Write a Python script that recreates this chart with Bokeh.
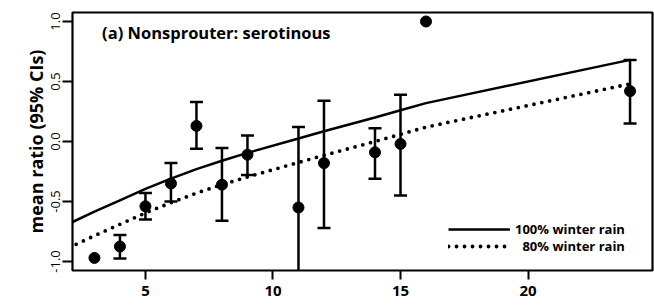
import math
from bokeh.plotting import figure
from bokeh.models import Range1d, FixedTicker, Legend, LegendItem, Label, ColumnDataSource
from bokeh.embed import file_html
from bokeh.resources import INLINE

nan = float("nan")

# observed mean ratios with 95% CIs
age = [3, 4, 5, 6, 7, 8, 9, 11, 12, 14, 15, 16, 24]
mean_ratio = [-0.97, -0.875, -0.54, -0.35, 0.13, -0.36, -0.11, -0.55, -0.18, -0.09, -0.02, 1.00, 0.42]
ci_upper = [nan, -0.78, -0.43, -0.18, 0.33, -0.055, 0.05, 0.12, 0.34, 0.11, 0.39, nan, 0.68]
ci_lower = [nan, -0.975, -0.65, -0.50, -0.06, -0.66, -0.28, -1.25, -0.72, -0.31, -0.45, nan, 0.15]

# fitted curves
fit_age = [2, 3, 4, 5, 6, 7, 8, 9, 11, 12, 14, 15, 16, 24]
fit_100 = [-0.685, -0.585, -0.49, -0.395, -0.31, -0.23, -0.16, -0.095, 0.025, 0.085, 0.20, 0.26, 0.32, 0.68]
fit_80 = [-0.885, -0.785, -0.69, -0.595, -0.51, -0.43, -0.36, -0.295, -0.175, -0.115, 0.00, 0.06, 0.12, 0.48]

x_ticks = [5, 10, 15, 20]
y_ticks = [-1.0, -0.5, 0.0, 0.5, 1.0]
y_tick_labels = ["-1.0", "-0.5", "0.0", "0.5", "1.0"]

FONT = "Open Sans"

p = figure(width=654, height=306, output_backend="svg", toolbar_location=None,
           x_range=Range1d(2.14, 24.88), y_range=Range1d(-1.075, 1.075),
           min_border_left=72, min_border_right=2, min_border_top=12, min_border_bottom=36)
p.grid.visible = False
p.background_fill_color = "white"
p.border_fill_color = "white"
p.outline_line_color = "black"
p.outline_line_width = 2.2

# axes
p.xaxis.ticker = FixedTicker(ticks=x_ticks)
p.xaxis.axis_line_color = None
p.xaxis.major_tick_out = 9
p.xaxis.major_tick_in = 0
p.xaxis.major_tick_line_width = 2
p.xaxis.minor_tick_line_color = None
p.xaxis.major_label_standoff = 6
p.xaxis.major_label_text_font = FONT
p.xaxis.major_label_text_font_style = "bold"
p.xaxis.major_label_text_font_size = "15px"
p.xaxis.major_label_text_color = "black"

p.yaxis.ticker = FixedTicker(ticks=y_ticks)
p.yaxis.major_label_overrides = {t: l for t, l in zip(y_ticks, y_tick_labels)}
p.yaxis.axis_line_color = None
p.yaxis.major_tick_out = 10
p.yaxis.major_tick_in = 0
p.yaxis.major_tick_line_width = 2
p.yaxis.minor_tick_line_color = None
p.yaxis.major_label_orientation = "vertical"
p.yaxis.major_label_standoff = 3
p.yaxis.major_label_text_font = FONT
p.yaxis.major_label_text_font_size = "13px"
p.yaxis.major_label_text_color = "black"
p.yaxis.axis_label = "mean ratio (95% CIs)"
p.yaxis.axis_label_text_font = FONT
p.yaxis.axis_label_text_font_style = "bold"
p.yaxis.axis_label_text_font_size = "18px"
p.yaxis.axis_label_text_color = "black"
p.yaxis.axis_label_standoff = 0

# fitted lines
src_fit = ColumnDataSource(dict(x=fit_age, y100=fit_100, y80=fit_80))
l100 = p.line("x", "y100", source=src_fit, line_color="black", line_width=2.5)
l80 = p.line("x", "y80", source=src_fit, line_color="black", line_width=3.8,
             line_dash="0 8", line_cap="round")

# error bars
src = ColumnDataSource(dict(x=age, m=mean_ratio, lo=ci_lower, hi=ci_upper))
p.segment(x0="x", y0="lo", x1="x", y1="hi", source=src, line_color="black", line_width=2.5)
p.scatter(x="x", y="hi", source=src, marker="dash", size=13, line_color="black", line_width=2.5)
p.scatter(x="x", y="lo", source=src, marker="dash", size=13, line_color="black", line_width=2.5)
p.scatter(x="x", y="m", source=src, marker="circle", size=11, fill_color="black", line_color="black")

# panel title
p.add_layout(Label(x=3.3, y=0.91, text="(a) Nonsprouter: serotinous", text_font=FONT,
                   text_font_style="bold", text_font_size="16.5px", text_baseline="middle",
                   text_color="black"))

def make_legend(label, renderer, loc):
    return Legend(items=[LegendItem(label=label, renderers=[renderer])],
                  location=loc, margin=0, padding=0, spacing=0,
                  glyph_width=62, glyph_height=14, label_height=14, label_standoff=5,
                  border_line_color=None, background_fill_alpha=0,
                  label_text_font=FONT, label_text_font_style="bold",
                  label_text_font_size="13px", label_text_color="black")

p.add_layout(make_legend("100% winter rain", l100, (376, 32)))
p.add_layout(make_legend("\u200780% winter rain", l80, (376, 15)))

open("out.html", "w").write(file_html(p, INLINE))
